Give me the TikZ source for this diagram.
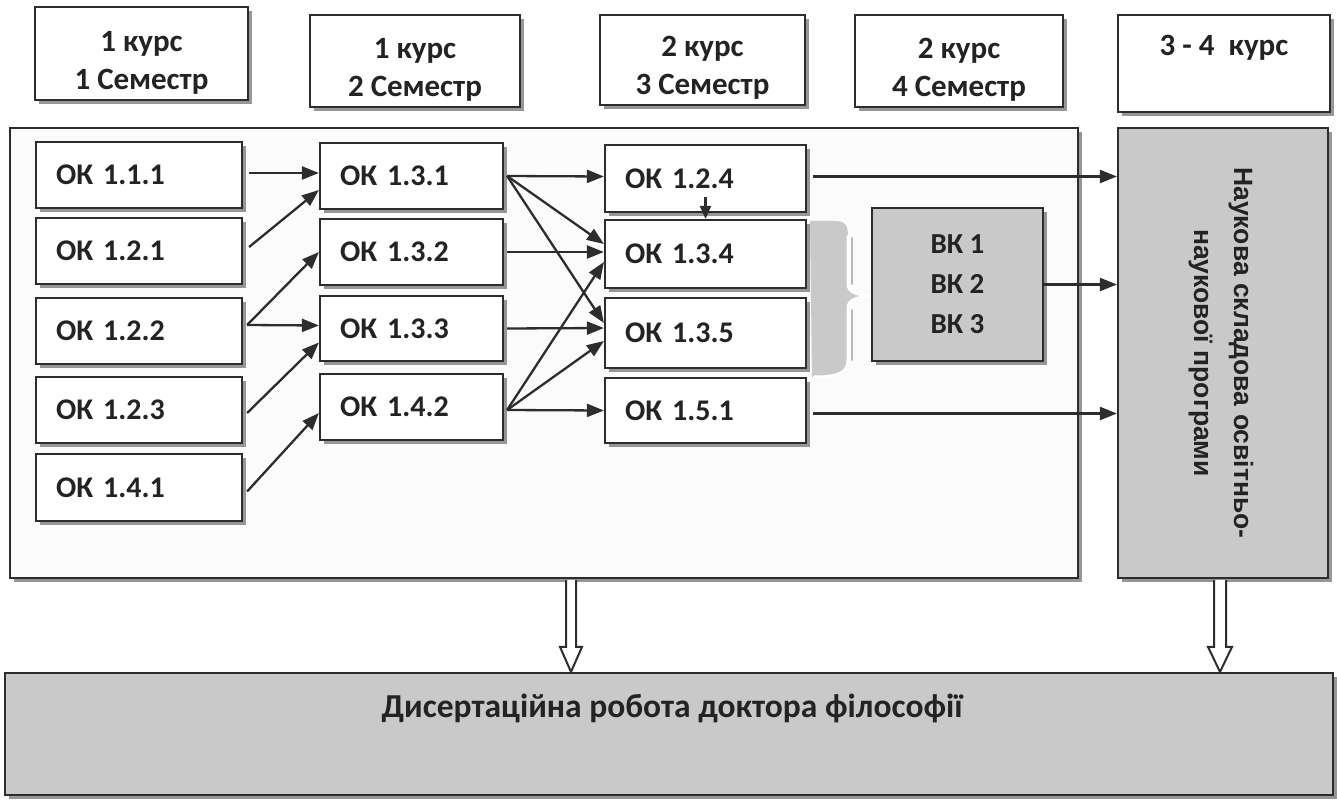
\documentclass[tikz,border=0pt]{standalone}
\usepackage{fontspec}
\setmainfont{Carlito}
\newfontfamily\arialfont{Liberation Sans}
\usetikzlibrary{arrows.meta,shadows,calc}
\definecolor{boxgray}{RGB}{201,201,201}
\definecolor{mainfill}{RGB}{251,251,251}
\definecolor{edge}{RGB}{45,45,45}
\definecolor{shade}{RGB}{150,150,150}
\definecolor{braceshade}{RGB}{185,185,185}
\definecolor{ink}{RGB}{35,35,35}
\begin{document}
\begin{tikzpicture}[x=1pt,y=-1pt,
  sh/.style={drop shadow={shadow xshift=4pt,shadow yshift=-4pt,fill=shade,opacity=1}},
  base/.style={draw=edge,line width=2.2pt,inner sep=0pt,text=ink,sh},
  hdr/.style={base,fill=white},
  hdrtext/.style={align=center,text=ink,font=\bfseries\fontsize{31}{38}\selectfont},
  okbox/.style={base,fill=white,minimum height=66pt,inner xsep=20pt,align=left,font=\bfseries\fontsize{30}{36}\selectfont},
  grey/.style={base,fill=boxgray},
  arr/.style={draw=edge,line width=2.3pt,-{Triangle[length=17pt,width=13pt]}},
  hollow/.style={draw=edge,line width=2pt,fill=white,line join=miter}
]
\useasboundingbox (0,0) rectangle (1337,802);
\fill[white] (0,0) rectangle (1337,802);

% headers
\node[hdr,minimum width=213pt,minimum height=93pt] (h1) at (141.5,53.5) {};
\node[hdr,minimum width=210pt,minimum height=92pt] (h2) at (415,61) {};
\node[hdr,minimum width=205pt,minimum height=90pt] (h3) at (702.5,60) {};
\node[hdr,minimum width=208pt,minimum height=92pt] (h4) at (959,61) {};
\node[hdr,minimum width=212pt,minimum height=97pt] (h5) at (1224,63.5) {};
\node[hdrtext] (h1t) at ($(h1.center)+(0,9)$) {1 курс\\1 Семестр};
\node[hdrtext] (h2t) at ($(h2.center)+(0,9)$) {1 курс\\2 Семестр};
\node[hdrtext] (h3t) at ($(h3.center)+(0,8)$) {2 курс\\3 Семестр};
\node[hdrtext] (h4t) at ($(h4.center)+(0,9)$) {2 курс\\4 Семестр};
\node[hdrtext] (h5t) at ($(h5.north)+(0,34)$) {3 - 4~ курс};

% main frame, right box, bottom box
\node[base,fill=mainfill,minimum width=1068pt,minimum height=450pt] (main) at (544,353) {};
\node[grey,minimum width=210pt,minimum height=450pt] (rb) at (1223,353) {};
\node[rotate=-90,align=center,text=ink,font=\arialfont\bfseries\fontsize{26.5}{40}\selectfont] (rbt) at ($(rb.center)+(-2,0)$) {Наукова складова освітньо-\\наукової програми};
\node[grey,minimum width=1328pt,minimum height=122pt] (bot) at (669,734) {};
\node[text=ink,font=\bfseries\fontsize{33.5}{40}\selectfont] (bott) at (672,708) {Дисертаційна робота доктора філософії};

% column 1
\node[okbox,text width=166pt] (ok111) at (139,175) {ОК 1.1.1};
\node[okbox,text width=166pt] (ok121) at (139,251) {ОК 1.2.1};
\node[okbox,text width=166pt] (ok122) at (139,331) {ОК 1.2.2};
\node[okbox,text width=166pt] (ok123) at (139,410) {ОК 1.2.3};
\node[okbox,text width=166pt,minimum height=67pt] (ok141) at (139,487.5) {ОК 1.4.1};
% column 2
\node[okbox,text width=143pt] (ok131) at (411.5,176) {ОК 1.3.1};
\node[okbox,text width=143pt] (ok132) at (411.5,252) {ОК 1.3.2};
\node[okbox,text width=143pt,minimum height=65pt] (ok133) at (411.5,328.5) {ОК 1.3.3};
\node[okbox,text width=143pt] (ok142) at (411.5,407) {ОК 1.4.2};
% column 3
\node[okbox,text width=161pt,minimum height=67pt] (ok124) at (705.5,178.5) {ОК 1.2.4};
\node[okbox,text width=161pt,minimum height=68pt] (ok134) at (705.5,254) {ОК 1.3.4};
\node[okbox,text width=161pt,minimum height=70pt] (ok135) at (705.5,333) {ОК 1.3.5};
\node[okbox,text width=161pt,minimum height=65pt] (ok151) at (705.5,410.5) {ОК 1.5.1};

% brace
\fill[boxgray] (810,221) -- (835,221) .. controls (848,221) and (848,228) .. (848,240) -- (848,284)
  .. controls (848,292) and (856,296) .. (880,296) .. controls (856,296) and (848,300) .. (848,308)
  -- (848,360) .. controls (848,372) and (840,377) .. (812,377) -- cycle;
\draw[braceshade,line width=2pt,line cap=round] (851.5,238) -- (851.5,284);
\draw[braceshade,line width=2pt,line cap=round] (851.5,310) -- (851.5,360);
\draw[white,line width=3pt,line cap=round] (848,236) -- (848,284)
  .. controls (848,292) and (856,296) .. (880,296) .. controls (856,296) and (848,300) .. (848,308)
  -- (848,360) .. controls (848,372) and (840,377) .. (814,377);

% ВК box
\node[grey,minimum width=171pt,minimum height=153pt,align=center,font=\bfseries\fontsize{29}{40}\selectfont] (vk) at (957.5,284.5) {ВК 1\\ВК 2\\ВК 3};

% arrows col1 -> col2
\draw[arr] ($(ok111.east)+(6,-2)$) -- ($(ok131.west)+(0,-3)$);
\draw[arr] ($(ok121.east)+(6,-4)$) -- ($(ok131.west)+(0,14)$);
\coordinate (s122) at ($(ok122.east)+(4,-6)$);
\draw[arr] (s122) -- (ok132.west);
\draw[arr] (s122) -- ($(ok133.west)+(0,-3)$);
\draw[arr] ($(ok123.east)+(4,3)$) -- ($(ok133.west)+(0,14)$);
\draw[arr] ($(ok141.east)+(4,4)$) -- ($(ok142.west)+(0,6)$);

% arrows col2 -> col3
\coordinate (s131) at ($(ok131.east)+(3,0)$);
\draw[arr] (s131) -- ($(ok124.west)+(0,-2)$);
\draw[arr] (s131) -- ($(ok134.west)+(0,-10)$);
\draw[arr] (s131) -- ($(ok135.west)+(0,-10)$);
\draw[arr] ($(ok132.east)+(3,0)$) -- ($(ok134.west)+(0,-2)$);
\draw[arr] ($(ok133.east)+(3,0)$) -- ($(ok135.west)+(0,-5)$);
\coordinate (s142) at ($(ok142.east)+(3,3)$);
\draw[arr] (s142) -- ($(ok134.west)+(0,8)$);
\draw[arr] (s142) -- ($(ok135.west)+(0,8)$);
\draw[arr] (s142) -- (ok151.west);
\draw[draw=edge,line width=2.2pt,-{Triangle[length=13pt,width=11pt]}] ($(ok124.south)+(0,-16)$) -- (ok134.north);

% arrows to right box
\draw[arr] ($(ok124.east)+(6,-2)$) -- ($(ok124.east -| rb.west)+(0,-2)$);
\draw[arr] (vk.east) -- (vk.east -| rb.west);
\draw[arr] ($(ok151.east)+(6,3)$) -- ($(ok151.east -| rb.west)+(0,3)$);

% hollow arrows
\coordinate (a1s) at ($(main.south)+(27,0)$);
\coordinate (a1e) at (a1s |- bot.north);
\draw[hollow] ($(a1s)+(-5,1)$) -- ($(a1e)+(-5,-25)$) -- ($(a1e)+(-11,-25)$) -- (a1e)
  -- ($(a1e)+(11,-25)$) -- ($(a1e)+(5,-25)$) -- ($(a1s)+(5,1)$);
\coordinate (a2s) at ($(rb.south)+(-3,0)$);
\coordinate (a2e) at (a2s |- bot.north);
\draw[hollow] ($(a2s)+(-6,1)$) -- ($(a2e)+(-6,-25)$) -- ($(a2e)+(-12,-25)$) -- (a2e)
  -- ($(a2e)+(12,-25)$) -- ($(a2e)+(6,-25)$) -- ($(a2s)+(6,1)$);
\end{tikzpicture}
\end{document}
